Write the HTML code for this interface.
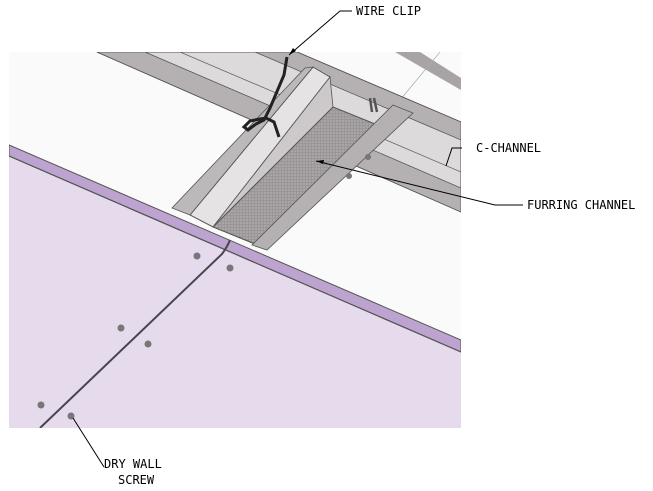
<!DOCTYPE html>
<html><head><meta charset="utf-8"><style>
html,body{margin:0;padding:0;background:#fff;width:653px;height:491px;overflow:hidden}
svg{display:block}
text{font-family:"DejaVu Sans Mono","Liberation Mono",monospace;font-size:12px;fill:#000}
</style></head><body>
<svg width="653" height="491" viewBox="0 0 653 491">
<defs>
<pattern id="dots" width="3" height="3" patternUnits="userSpaceOnUse">
<rect width="3" height="3" fill="#9a9698"/><circle cx="1" cy="1" r="0.8" fill="#bdb8bb"/></pattern>
<clipPath id="c"><rect x="9" y="52" width="452" height="376"/></clipPath>
</defs>
<g clip-path="url(#c)">
<rect x="9" y="52" width="452" height="376" fill="#fafafa"/>
<polygon points="395,52 420,52 461,78 461,90" fill="#a8a4a5"/>
<line x1="400" y1="100" x2="440" y2="52" stroke="#aaa" stroke-width="0.7"/>
<polygon points="97,52 297,52 461,122 461,212" fill="#dcdadb" stroke="#555" stroke-width="1"/>
<polygon points="97,52 145,52 461,188 461,212" fill="#b5b1b2" stroke="#555" stroke-width="0.8"/>
<polygon points="255,52 297,52 461,122 461,140" fill="#b5b1b2" stroke="#555" stroke-width="0.8"/>
<line x1="180" y1="52" x2="461" y2="172" stroke="#666" stroke-width="0.8"/>
<polygon points="313,67 330,77 213,227 190,215" fill="#e6e3e4" stroke="#555" stroke-width="1"/>
<polygon points="305,68 313,67 190,215 172,208" fill="#bdb9ba" stroke="#555" stroke-width="0.8"/>
<polygon points="330,77 333,107 380,128 257,245 213,227" fill="#cdc9ca" stroke="#555" stroke-width="0.8"/>
<polygon points="333,107 385,128 258,245 213,227" fill="url(#dots)" stroke="#555" stroke-width="1"/>
<polygon points="393,105 413,113 267,250 252,245" fill="#b5b1b2" stroke="#555" stroke-width="0.8"/>
<path d="M287,57 L284,75 270,108 264,120 256,124 248,130 244,127 250,121 260,119 266,118 274,122 279,137" fill="none" stroke="#222" stroke-width="3"/>
<path d="M370,98 L372,112 M374,98 L377,112" stroke="#555" stroke-width="2.5"/>
<circle cx="368" cy="157" r="3" fill="#777"/><circle cx="349" cy="176" r="3" fill="#777"/>
<polygon points="9,145 461,342 461,428 9,428" fill="#e5dbed"/>
<polygon points="9,145 461,340 461,352 9,156" fill="#bda3cf" stroke="#555" stroke-width="1"/>
<line x1="9" y1="156" x2="461" y2="352" stroke="#555" stroke-width="1.2"/>
<path d="M230,240 C228,245 225,250 222,254 L40,428" fill="none" stroke="#4a4548" stroke-width="2"/>
<g fill="#7a7578">
<circle cx="197" cy="256" r="3.5"/><circle cx="230" cy="268" r="3.5"/>
<circle cx="121" cy="328" r="3.5"/><circle cx="148" cy="344" r="3.5"/>
<circle cx="41" cy="405" r="3.5"/><circle cx="71" cy="416" r="3.5"/>
</g>
</g>
<g stroke="#000" stroke-width="1" fill="none">
<polyline points="352,11 340,11 289,55"/>
<polyline points="446,166 452,148 462,148"/>
<polyline points="523,205 495,205 316,161"/>
<polyline points="104,467 73,418"/>
</g>
<polygon points="289,55 293,48 296,51" fill="#000"/>
<polygon points="316,161 324,160 323,164" fill="#000"/>
<text x="356" y="15">WIRE CLIP</text>
<text x="476" y="152">C-CHANNEL</text>
<text x="527" y="209">FURRING CHANNEL</text>
<text x="104" y="468">DRY WALL</text>
<text x="118" y="484">SCREW</text>
</svg>
</body></html>
